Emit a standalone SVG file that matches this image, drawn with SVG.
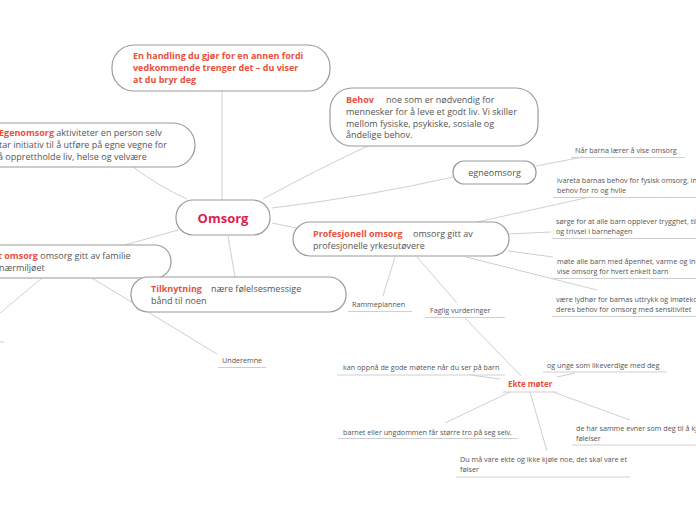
<svg xmlns="http://www.w3.org/2000/svg" width="696" height="520" viewBox="0 0 696 520">
<style>
text{font-family:"Open Sans","Noto Sans","Liberation Sans",sans-serif}
.box{fill:#fff;stroke:#9a9a9a;stroke-width:1.2}
.t{font-size:9px;fill:#555}
.r{font-weight:bold;fill:#e8503e}
.leaf{font-size:7.2px;fill:#555}
.ul{stroke:#cfcfcf;stroke-width:1}
.c path,.c line{stroke:#cfcfcf;stroke-width:1;fill:none}
</style>
<rect width="696" height="520" fill="#fff"/>
<g class="c" id="connectors">
<line x1="222" y1="91" x2="222" y2="200"/>
<path d="M133,167 Q160,187 187,199"/>
<path d="M263,199 Q320,168 370,145"/>
<path d="M272,208 Q370,196 453,177"/>
<path d="M272,223 L296,228"/>
<path d="M178,230 L125,245"/>
<path d="M228,236 L235,277"/>
<path d="M92,278 L217,354"/>
<path d="M42,278 L0,313"/>
<path d="M536,166 L583,157"/>
<path d="M477,222 L590,197"/>
<path d="M508,234 L551,232"/>
<path d="M508,251 L553,257"/>
<path d="M466,257 L597,290"/>
<path d="M395,257 L383,296"/>
<path d="M417,257 L457,303"/>
<path d="M465,318 L521,376"/>
<path d="M500,379 L470,375"/>
<path d="M557,377 L575,373"/>
<path d="M553,392 L630,420"/>
<path d="M510,392 L445,423"/>
<path d="M530,392 L547,451"/>
</g>
<g id="n-top">
<rect class="box" x="112" y="45" width="218" height="46" rx="22"/>
<text class="t r" x="133" y="59">En handling du gjør for en annen fordi</text>
<text class="t r" x="133" y="71">vedkommende trenger det – du viser</text>
<text class="t r" x="133" y="83">at du bryr deg</text>
</g>
<g id="n-egenomsorg">
<rect class="box" x="-30" y="123" width="225" height="44" rx="22"/>
<text class="t" x="-1" y="136"><tspan class="r">Egenomsorg</tspan> aktiviteter en person selv</text>
<text class="t" x="-1" y="148">tar initiativ til å utføre på egne vegne for</text>
<text class="t" x="-2" y="160">å opprettholde liv, helse og velvære</text>
</g>
<g id="n-behov">
<rect class="box" x="330" y="88" width="208" height="58" rx="22"/>
<text class="t" x="346" y="103"><tspan class="r">Behov</tspan><tspan x="386">noe som er nødvendig for</tspan></text>
<text class="t" x="346" y="115">mennesker for å leve et godt liv. Vi skiller</text>
<text class="t" x="346" y="126.5">mellom fysiske, psykiske, sosiale og</text>
<text class="t" x="346" y="138">åndelige behov.</text>
</g>
<g id="n-omsorg">
<rect class="box" x="176" y="200" width="94" height="35" rx="17"/>
<text x="223" y="222.5" text-anchor="middle" font-size="13" font-weight="bold" fill="#dc1e50">Omsorg</text>
</g>
<g id="n-uformell">
<rect class="box" x="-30" y="245" width="201" height="33" rx="16"/>
<text class="t" x="-2" y="259"><tspan class="r">t omsorg</tspan> omsorg gitt av familie</text>
<text class="t" x="-1" y="271">nærmiljøet</text>
</g>
<g id="n-tilknytning">
<rect class="box" x="131" y="277" width="215" height="35" rx="17"/>
<text class="t" x="151" y="292"><tspan class="r">Tilknytning</tspan><tspan x="211">nære følelsesmessige</tspan></text>
<text class="t" x="151" y="304">bånd til noen</text>
</g>
<g id="n-profesjonell">
<rect class="box" x="293" y="222" width="216" height="34" rx="17"/>
<text class="t" x="313" y="237"><tspan class="r">Profesjonell omsorg</tspan><tspan x="413">omsorg gitt av</tspan></text>
<text class="t" x="313" y="249">profesjonelle yrkesutøvere</text>
</g>
<g id="n-egneomsorg">
<rect class="box" x="453" y="161" width="83" height="23" rx="11"/>
<text class="t" x="494.5" y="176" text-anchor="middle">egneomsorg</text>
</g>
<g id="l-offscreen"><line class="ul" x1="0" y1="342" x2="4" y2="342"/></g>
<g id="l-naar"><text class="leaf" x="575" y="153">Når barna lærer å vise omsorg</text><line class="ul" x1="571" y1="157.5" x2="685" y2="157.5"/></g>
<g id="l-ivareta"><text class="leaf" x="557" y="183">ivareta barnas behov for fysisk omsorg, inkludert</text><text class="leaf" x="557" y="193">behov for ro og hvile</text><line class="ul" x1="553" y1="197.5" x2="696" y2="197.5"/></g>
<g id="l-sorge"><text class="leaf" x="556" y="224">sørge for at alle barn opplever trygghet, tilhørighet</text><text class="leaf" x="556" y="234">og trivsel i barnehagen</text><line class="ul" x1="552" y1="238.5" x2="696" y2="238.5"/></g>
<g id="l-mote"><text class="leaf" x="557" y="264">møte alle barn med åpenhet, varme og interesse og</text><text class="leaf" x="557" y="274">vise omsorg for hvert enkelt barn</text><line class="ul" x1="552" y1="278.5" x2="696" y2="278.5"/></g>
<g id="l-vaere"><text class="leaf" x="556" y="302">være lydhør for barnas uttrykk og imøtekomme</text><text class="leaf" x="556" y="312">deres behov for omsorg med sensitivitet</text><line class="ul" x1="552" y1="316.5" x2="696" y2="316.5"/></g>
<g id="l-ramme"><text class="leaf" x="352" y="307">Rammeplannen</text><line class="ul" x1="348" y1="311.5" x2="412" y2="311.5"/></g>
<g id="l-faglig"><text class="leaf" x="430" y="313">Faglig vurderinger</text><line class="ul" x1="425" y1="317.5" x2="505" y2="317.5"/></g>
<g id="l-underemne"><text class="leaf" x="222" y="363">Underemne</text><line class="ul" x1="218" y1="367.5" x2="266" y2="367.5"/></g>
<g id="l-kan"><text class="leaf" x="343" y="370">kan oppnå de gode møtene når du ser på barn</text><line class="ul" x1="337" y1="375" x2="505" y2="375"/></g>
<g id="n-ekte"><text x="508" y="387" font-size="8" font-weight="bold" fill="#e8503e">Ekte møter</text><line class="ul" x1="503" y1="392" x2="557" y2="392"/></g>
<g id="l-ogunge"><text class="leaf" x="547" y="368">og unge som likeverdige med deg</text><line class="ul" x1="543" y1="372" x2="667" y2="372"/></g>
<g id="l-deharr"><text class="leaf" x="576" y="431">de har samme evner som deg til å kjenne</text><text class="leaf" x="576" y="441">følelser</text><line class="ul" x1="572" y1="445" x2="696" y2="445"/></g>
<g id="l-barnet"><text class="leaf" x="343" y="435">barnet eller ungdommen får større tro på seg selv.</text><line class="ul" x1="338" y1="438.5" x2="518" y2="438.5"/></g>
<g id="l-dumaa"><text class="leaf" x="460" y="462">Du må vare ekte og ikke kjøle noe, det skal vare et</text><text class="leaf" x="460" y="472">følser</text><line class="ul" x1="456" y1="477" x2="630" y2="477"/></g>
</svg>
